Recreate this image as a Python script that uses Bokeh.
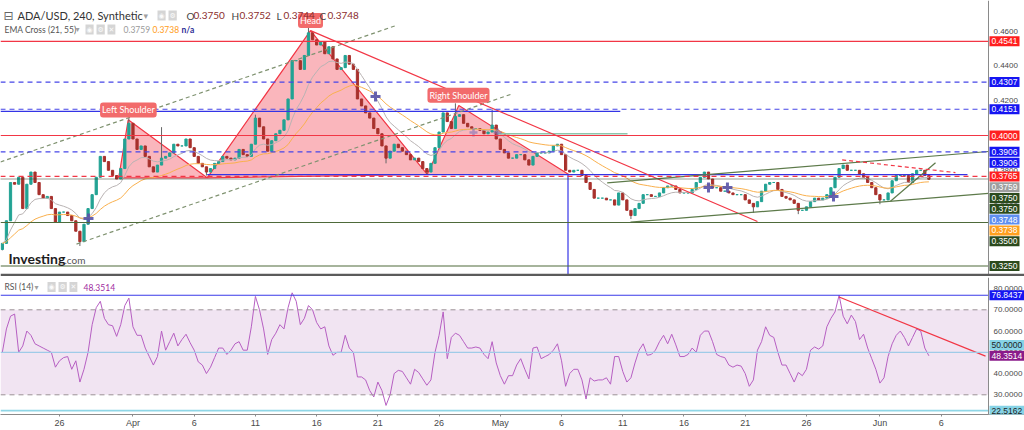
import pandas as pd
from bokeh.plotting import figure
from bokeh.models import (Range1d, FixedTicker, Label, BoxAnnotation,
                          Span, ColumnDataSource, CustomJSTickFormatter)
from bokeh.layouts import column
from bokeh.embed import file_html
from bokeh.resources import INLINE

# ---------------- data ----------------
first_time = "2023-03-21 08:00"
bar_hours = 8
first_open = 0.3345
closes = [
    0.338, 0.351, 0.373, 0.372, 0.376, 0.358, 0.372, 0.379, 0.373, 0.366,
    0.364, 0.365, 0.358, 0.350, 0.356, 0.356, 0.354, 0.351, 0.345, 0.339,
    0.349, 0.358, 0.366, 0.376, 0.388, 0.385, 0.380, 0.377, 0.375, 0.381,
    0.398, 0.407, 0.398, 0.392, 0.394, 0.388, 0.382, 0.379, 0.383, 0.387,
    0.388, 0.390, 0.395, 0.394, 0.394, 0.398, 0.393, 0.388, 0.384, 0.382,
    0.379, 0.381, 0.384, 0.385, 0.388, 0.387, 0.386, 0.387, 0.392, 0.389,
    0.388, 0.395, 0.410, 0.405, 0.398, 0.391, 0.397, 0.401, 0.403, 0.409,
    0.421, 0.443, 0.443, 0.438, 0.446, 0.459, 0.455, 0.452, 0.454, 0.447,
    0.451, 0.444, 0.438, 0.439, 0.446, 0.441, 0.438, 0.421, 0.417, 0.413,
    0.410, 0.404, 0.401, 0.394, 0.387, 0.391, 0.395, 0.393, 0.391, 0.389,
    0.386, 0.387, 0.385, 0.381, 0.379, 0.384, 0.393, 0.402, 0.413, 0.408,
    0.404, 0.411, 0.412, 0.407, 0.405, 0.404, 0.404, 0.403, 0.401, 0.402,
    0.406, 0.398, 0.392, 0.390, 0.387, 0.387, 0.389, 0.389, 0.386, 0.383,
    0.388, 0.390, 0.390, 0.390, 0.391, 0.394, 0.395, 0.389, 0.380, 0.379,
    0.380, 0.380, 0.377, 0.373, 0.369, 0.364, 0.364, 0.364, 0.363, 0.363,
    0.360, 0.367, 0.363, 0.357, 0.354, 0.358, 0.361, 0.366, 0.366, 0.365,
    0.365, 0.367, 0.370, 0.371, 0.371, 0.369, 0.367, 0.367, 0.367, 0.369,
    0.373, 0.376, 0.379, 0.375, 0.370, 0.370, 0.368, 0.368, 0.367, 0.366,
    0.366, 0.366, 0.363, 0.361, 0.359, 0.362, 0.368, 0.372, 0.373, 0.373,
    0.369, 0.365, 0.364, 0.363, 0.361, 0.357, 0.357, 0.359, 0.362, 0.364,
    0.363, 0.364, 0.366, 0.370, 0.376, 0.381, 0.383, 0.380, 0.380, 0.380,
    0.378, 0.376, 0.373, 0.370, 0.366, 0.363, 0.363, 0.367, 0.374, 0.377,
    0.377, 0.377, 0.373, 0.378, 0.380, 0.380, 0.377, 0.3748]
# notable wicks (bar index, price)
hi_idx = [31, 39, 62, 75, 111, 120]
hi_val = [0.4105, 0.4048, 0.4120, 0.4618, 0.4185, 0.4150]
lo_idx = [0, 19, 50, 94, 104, 154, 184, 195, 215]
lo_val = [0.3340, 0.3365, 0.3770, 0.3840, 0.3775, 0.3520, 0.3555, 0.3548, 0.3605]

rsi = [
    50, 61, 67, 68, 50, 53, 60, 58, 54, 53,
    52, 51, 50, 43, 46, 47.5, 48, 42, 46, 36,
    42, 50, 63, 71, 74, 66, 63, 62.5, 57.5, 63,
    72, 75.5, 62, 58, 58, 52, 48, 44, 48, 60,
    51, 55, 59, 53, 56, 58.5, 54.5, 51, 45.5, 44,
    40, 43, 47.5, 52, 52, 49, 51, 54, 55, 51,
    51, 62, 76.3, 70, 61, 49, 56, 59, 63, 61,
    71, 78, 74, 63, 66, 72, 70, 64, 61, 62,
    53, 48.6, 50, 50, 58, 52, 50, 38.4, 38.4, 37,
    32, 29, 36, 32, 25, 30, 40, 41.5, 41, 38,
    35, 42, 40.5, 37.5, 34.5, 37, 50, 58, 69, 47,
    57, 59, 58, 55, 52, 52, 52.5, 52, 49, 47,
    55, 45, 39, 35, 39, 39, 44, 47, 42, 37.5,
    52, 52.5, 47, 48, 49, 51, 54, 46, 34, 40,
    42, 42, 37, 28, 38, 36.5, 37, 37, 38, 35,
    48, 48, 41, 36, 38, 45, 51, 54, 48.6, 49,
    51, 55, 58, 54, 58.5, 53.5, 48, 48, 49, 52,
    50, 58, 60, 60, 55, 49, 48, 47.5, 44, 43,
    44, 43.5, 40, 34, 37, 51, 55, 62, 58, 57,
    50, 44, 44, 40, 36, 40.5, 39, 42, 51, 52.5,
    51.5, 53, 62, 66, 69, 76.84, 67, 63.4, 67.5, 64.5,
    56, 58.5, 52, 47, 42, 35.5, 38, 48, 54, 58,
    60, 57, 53, 57, 61, 60, 52, 48.35]

hdr_ohlc = ["0.3750", "0.3752", "0.3744", "0.3748"]
ema21_last = 0.3759
ema55_last = 0.3738
last_close = 0.3748
rsi_last = 48.3514
rsi_peak_level = 76.8437
rsi_low_level = 22.5162

# horizontal levels spanning the chart
red_levels = [0.4541, 0.4000]
blue_dash_levels = [0.4307, 0.4151, 0.3906]
red_dash_levels = [0.3765]
green_dot_levels = [0.3750]
green_levels = [0.3500, 0.3250]

# head & shoulders vertices
ls_t = ["2023-03-30 20:00", "2023-03-31 14:40", "2023-04-07 01:30"]
ls_p = [0.3757, 0.4090, 0.3757]
head_t = ["2023-04-07 01:30", "2023-04-15 12:00", "2023-04-25 00:40"]
head_p = [0.3757, 0.4603, 0.3776]
rs_t = ["2023-04-25 00:40", "2023-04-27 14:40", "2023-05-06 14:10"]
rs_p = [0.3776, 0.4172, 0.3776]
pattern_names = ["Left Shoulder", "Head", "Right Shoulder"]
pattern_t = ["2023-03-31 15:00", "2023-04-15 12:00", "2023-04-27 14:00"]
pattern_p = [0.4147, 0.4661, 0.4232]

# drawn trend lines
chan_t0 = ["2023-03-21 04:22", "2023-03-27 09:20"]
chan_p0 = [0.3848, 0.3376]
chan_t1 = ["2023-04-22 14:30", "2023-05-01 20:00"]
chan_p1 = [0.4635, 0.4236]
red_t0, red_p0, red_t1, red_p1 = ["2023-04-15 12:00"], [0.4603], ["2023-05-22 00:00"], [0.3506]
grn_t0 = ["2023-05-11 15:10", "2023-05-09 17:30", "2023-06-01 20:40"]
grn_p0 = [0.3502, 0.3728, 0.3622]
grn_t1 = ["2023-06-09 20:50", "2023-06-09 20:50", "2023-06-05 13:00"]
grn_p1 = [0.3667, 0.3908, 0.3843]
rdash_t0, rdash_p0, rdash_t1, rdash_p1 = ["2023-05-28 22:00"], [0.3860], ["2023-06-07 04:00"], [0.3787]
vline_t = "2023-05-06 12:40"
vline_p = [0.3776, 0.3190]
hseg_t0 = ["2023-03-21 04:22", "2023-04-07 01:30"]
hseg_t1 = ["2023-05-10 19:10", "2023-06-08 03:40"]
hseg_p = [0.4139, 0.3775]
teal_t = ["2023-04-30 18:30", "2023-05-11 09:20"]
teal_p = 0.4010
cross_t = ["2023-03-28 08:50", "2023-04-20 19:25", "2023-05-18 00:00",
           "2023-05-19 13:10", "2023-05-28 05:00"]
cross_p = [0.3523, 0.4224, 0.3701, 0.3701, 0.3649]
cross2_t = ["2023-04-28 19:25", "2023-04-30 18:30"]
cross2_p = [0.4017, 0.4017]
rsi_tr_t = ["2023-05-28 16:00", "2023-06-09 15:00"]
rsi_tr_v = [76.0, 48.2]

price_ticks = [0.34, 0.36, 0.38, 0.40, 0.42, 0.44, 0.46]
rsi_ticks = [30, 40, 50, 60, 70, 80]
date_ticks = ["2023-03-26", "2023-04-01", "2023-04-06", "2023-04-11", "2023-04-16",
              "2023-04-21", "2023-04-26", "2023-05-01", "2023-05-06", "2023-05-11",
              "2023-05-16", "2023-05-21", "2023-05-26", "2023-06-01", "2023-06-06"]
view_start, axis_time = "2023-03-21 04:22", "2023-06-09 20:50"

# ---------------- layout constants ----------------
W = 1024
PLOT_W = 988          # pixels left of the price scale
MAIN_H = 276
P0, P1 = 0.31897, 0.47759
RSI_TOP, RSI_FH = 277, 137
R0, R1 = 20.73, 85.2
LAB_FONT = "Liberation Sans"


def to_ms(s):
    return pd.Timestamp(s).value / 1e6


def main_y(px):
    return P1 - px * (P1 - P0) / MAIN_H


def rsi_y(px):
    return R1 - (px - RSI_TOP) * (R1 - R0) / RSI_FH


x0_ms, axis_ms = to_ms(view_start), to_ms(axis_time)
ms_per_px = (axis_ms - x0_ms) / PLOT_W
xr = Range1d(x0_ms, x0_ms + W * ms_per_px)


def base_fig(y0, y1, fh, **kw):
    f = figure(x_range=xr, y_range=Range1d(y0, y1), frame_width=W, frame_height=fh,
               toolbar_location=None, output_backend="svg", min_border_left=0,
               min_border_right=0, background_fill_color="white",
               border_fill_color="white", **kw)
    f.grid.visible = False
    f.outline_line_color = None
    return f


def price_scale(fig, ticks, labels, stack_down, gap_val):
    """white price-scale strip right of the plot, axis line, ticks and value tags"""
    fig.add_layout(BoxAnnotation(left=axis_ms, fill_color="white", fill_alpha=1,
                                 line_color=None, level="overlay"))
    fig.add_layout(Span(location=axis_ms, dimension="height", line_color="#8a8a8a",
                        line_width=1, level="overlay"))
    tr = fig.segment([axis_ms] * len(ticks), ticks, [axis_ms + 3 * ms_per_px] * len(ticks),
                     ticks, line_color="#8a8a8a", line_width=1)
    tr.level = "overlay"
    for tk in ticks:
        fig.add_layout(Label(x=axis_ms, y=tk, x_offset=5, text=f"{tk:.4f}",
                             text_color="#4a4a4a", text_font=LAB_FONT, text_font_size="8px",
                             text_baseline="middle", level="overlay"))
    prev = None
    for v, bg, fg in labels:
        if prev is None:
            pos = v
        else:
            pos = min(v, prev - gap_val) if stack_down else max(v, prev + gap_val)
        prev = pos
        fig.add_layout(Label(x=axis_ms, y=pos, x_offset=1, text=f"{v:.4f}", text_color=fg,
                             text_font=LAB_FONT, text_font_size="8.5px",
                             text_baseline="middle", background_fill_color=bg, padding=2,
                             level="overlay"))


def txt(fig, x, y, s, color, size, font="Lato", bold=False, bg=None, pad=0):
    lab = Label(x=x, y=y, x_units="screen", y_units="data", text=s, text_color=color,
                text_font=font, text_font_size=f"{size}px", text_baseline="middle",
                text_font_style="bold" if bold else "normal")
    if bg is not None:
        lab.background_fill_color = bg
        lab.padding = pad
    fig.add_layout(lab)


def icons(fig, xs, y):
    for x, g in zip(xs, ["\u25c9", "\u2699", "\u2715"]):
        txt(fig, x, y, g, "#fbfbfb", 7, font="DejaVu Sans", bg="#d5d5d5", pad=1)


# ---------------- main price panel ----------------
p = base_fig(P0, P1, MAIN_H, x_axis_location=None, y_axis_location=None,
             min_border_top=0, min_border_bottom=0)

# head & shoulders shaded triangles
p.patches([[to_ms(t) for t in ls_t], [to_ms(t) for t in head_t], [to_ms(t) for t in rs_t]],
          [ls_p, head_p, rs_p], fill_color="#f23645", fill_alpha=0.36,
          line_color="#f23645", line_width=1.2)

# candles
t0 = pd.Timestamp(first_time)
times = [(t0 + pd.Timedelta(hours=bar_hours * i)).value / 1e6 for i in range(len(closes))]
opens = [first_open] + closes[:-1]
highs = [max(o, c) for o, c in zip(opens, closes)]
lows = [min(o, c) for o, c in zip(opens, closes)]
for i, v in zip(hi_idx, hi_val):
    highs[i] = max(highs[i], v)
for i, v in zip(lo_idx, lo_val):
    lows[i] = min(lows[i], v)
cols = ["#22a394" if c >= o else "#a8312c" for o, c in zip(opens, closes)]
src = ColumnDataSource(dict(t=times, h=highs, l=lows,
                            top=[max(o, c) for o, c in zip(opens, closes)],
                            bot=[min(o, c) for o, c in zip(opens, closes)], col=cols))
p.segment("t", "h", "t", "l", source=src, line_color="#666666", line_width=1)
p.vbar("t", bar_hours * 3600e3 * 0.55, "top", "bot", source=src, fill_color="col",
       line_color="col", line_width=1)

# EMA cross (21, 55) computed on the closes (spans converted from 4h to 8h bars)
cs = pd.Series(closes)
ema_fast = cs.ewm(span=11, adjust=False).mean()
ema_slow = cs.ewm(span=28, adjust=False).mean()
p.line(times, ema_fast, line_color="#b9b3b3", line_width=1)
p.line(times, ema_slow, line_color="#f9b04e", line_width=1)

# horizontal levels
for lv in red_levels:
    p.add_layout(Span(location=lv, dimension="width", line_color="#f23645", line_width=1.2))
for lv in blue_dash_levels:
    p.add_layout(Span(location=lv, dimension="width", line_color="#4646e8", line_width=1.2,
                      line_dash="5 4"))
for lv in red_dash_levels:
    p.add_layout(Span(location=lv, dimension="width", line_color="#f23645", line_width=1.2,
                      line_dash="5 4"))
for lv in green_dot_levels:
    p.add_layout(Span(location=lv, dimension="width", line_color="#2f3f2a", line_width=1,
                      line_dash="1 1"))
for lv in green_levels:
    p.add_layout(Span(location=lv, dimension="width", line_color="#4e6a3a", line_width=1.2))

p.segment([to_ms(t) for t in hseg_t0], hseg_p, [to_ms(t) for t in hseg_t1], hseg_p,
          line_color="#3434e6", line_width=1.2)
p.segment([to_ms(teal_t[0])], [teal_p], [to_ms(teal_t[1])], [teal_p],
          line_color="#8cc6ac", line_width=1.5)

# trend lines
p.segment([to_ms(t) for t in chan_t0], chan_p0, [to_ms(t) for t in chan_t1], chan_p1,
          line_color="#7f9270", line_width=1.2, line_dash="4 3")
p.segment([to_ms(t) for t in red_t0], red_p0, [to_ms(t) for t in red_t1], red_p1,
          line_color="#f23645", line_width=1.2)
p.segment([to_ms(t) for t in grn_t0], grn_p0, [to_ms(t) for t in grn_t1], grn_p1,
          line_color="#5d7a4a", line_width=1.2)
p.segment([to_ms(t) for t in rdash_t0], rdash_p0, [to_ms(t) for t in rdash_t1], rdash_p1,
          line_color="#f23645", line_width=1.2, line_dash="4 3")
p.segment([to_ms(vline_t)], [vline_p[0]], [to_ms(vline_t)], [vline_p[1]],
          line_color="#3434e6", line_width=1.2)

# EMA cross markers
p.scatter([to_ms(t) for t in cross_t], cross_p, marker="cross", size=10, line_width=3,
          line_color="#5852a8", alpha=0.9)
p.scatter([to_ms(t) for t in cross2_t], cross2_p, marker="cross", size=8, line_width=2.5,
          line_color="#7f6fb8", alpha=0.6)

# pattern labels
for name, t, pr in zip(pattern_names, pattern_t, pattern_p):
    p.add_layout(Label(x=to_ms(t), y=pr, text=name, text_color="white", text_font="Lato",
                       text_font_size="9px", text_align="center", text_baseline="middle",
                       background_fill_color="#f26b6b", padding=2, border_radius=3))

# header of main panel
y1 = main_y(15)
txt(p, 3, y1, "\u229f", "#666666", 12, font="DejaVu Sans")
txt(p, 17, y1, "ADA/USD, 240, Synthetic", "#333333", 11)
txt(p, 143, y1, "\u25be", "#a0a0a0", 9, font="DejaVu Sans")
icons(p, [157, 168], y1)
for x_l, x_v, letter, val in zip([186, 231, 276, 319], [193, 239, 283, 327],
                                 ["O", "H", "L", "C"], hdr_ohlc):
    txt(p, x_l, y1, letter, "#444444", 10)
    txt(p, x_v, y1, val, "#8c2d2d", 10)
y2 = main_y(29)
txt(p, 4, y2, "EMA Cross (21, 55)", "#555555", 8.5)
txt(p, 75, y2, "\u25be", "#a0a0a0", 8, font="DejaVu Sans")
icons(p, [85, 96, 107], y2)
txt(p, 123, y2, f"{ema21_last:.4f}", "#9a9a9a", 8.5)
txt(p, 152, y2, f"{ema55_last:.4f}", "#ff9d1a", 8.5)
txt(p, 181, y2, "n/a", "#2d2d96", 8.5, bold=True)

# watermark
txt(p, 8, main_y(258), "Investing", "#1e1e1e", 14, bold=True)
txt(p, 64, main_y(259), ".com", "#555555", 10)

# price scale with stacked value tags
lab_val = [0.4541, 0.4307, 0.4151, 0.4000, 0.3906, 0.3906, 0.3765, ema21_last,
           0.3750, 0.3750, last_close, ema55_last, 0.3500, 0.3250]
lab_bg = ["#ff1f1f", "#1515f2", "#1515f2", "#ff1f1f", "#1515f2", "#1515f2", "#ff1f1f",
          "#9e9e9e", "#2b4a1d", "#2b4a1d", "#5f8ff0", "#ffa01f", "#2b4a1d", "#2b4a1d"]
price_scale(p, price_ticks, [(v, bg, "white") for v, bg in zip(lab_val, lab_bg)],
            True, 10.8 * (P1 - P0) / MAIN_H)

# separator between panels
p.add_layout(BoxAnnotation(bottom=P0, top=main_y(273.2), fill_color="#5b5b5b",
                           fill_alpha=1, line_color=None, level="overlay"))

# ---------------- RSI panel ----------------
r = base_fig(R0, R1, RSI_FH, x_axis_type="datetime", y_axis_location=None,
             min_border_top=1, min_border_bottom=16)
xa = r.xaxis[0]
xa.ticker = FixedTicker(ticks=[to_ms(d) for d in date_ticks])
xa.formatter = CustomJSTickFormatter(code="""
const m = ['Jan','Feb','Mar','Apr','May','Jun','Jul','Aug','Sep','Oct','Nov','Dec'];
const d = new Date(tick);
return d.getUTCDate() == 1 ? m[d.getUTCMonth()] : String(d.getUTCDate());
""")
xa.axis_line_color = "#8a8a8a"
xa.major_tick_line_color = "#8a8a8a"
xa.minor_tick_line_color = None
xa.major_tick_out = 2
xa.major_tick_in = 0
xa.major_label_standoff = 1
xa.major_label_text_font_size = "9px"
xa.major_label_text_font = LAB_FONT
xa.major_label_text_color = "#4a4a4a"

r.add_layout(BoxAnnotation(bottom=30, top=70, fill_color="#f1e4f2", fill_alpha=1,
                           line_color=None, level="underlay"))
for lv in [70, 30]:
    r.add_layout(Span(location=lv, dimension="width", line_color="#9c9296", line_width=1,
                      line_dash="5 4"))
r.add_layout(Span(location=50, dimension="width", line_color="#9fcbe8", line_width=1.2))
r.add_layout(Span(location=rsi_peak_level, dimension="width", line_color="#3a3ae8",
                  line_width=1.2))
r.add_layout(Span(location=rsi_low_level, dimension="width", line_color="#8fd6e6",
                  line_width=1.8))
r.line(times, rsi, line_color="#b65fc2", line_width=1)
r.line([to_ms(t) for t in rsi_tr_t], rsi_tr_v, line_color="#f23645", line_width=1.2)

y3 = rsi_y(286.5)
txt(r, 4, y3, "RSI (14)", "#555555", 8.5)
txt(r, 34, y3, "\u25be", "#a0a0a0", 8, font="DejaVu Sans")
icons(r, [47, 58, 69], y3)
txt(r, 83, y3, f"{rsi_last:.4f}", "#a02ca0", 8.5)

rlab = [(rsi_low_level, "#86d3e6", "#1e1e1e"), (rsi_last, "#8a1a8a", "white"),
        (50.0, "#86d3e6", "#1e1e1e"), (rsi_peak_level, "#1515f2", "white")]
price_scale(r, rsi_ticks, rlab, False, 10.8 * (R1 - R0) / RSI_FH)

layout = column(p, r, spacing=0)
open("out.html", "w").write(file_html(layout, INLINE))
